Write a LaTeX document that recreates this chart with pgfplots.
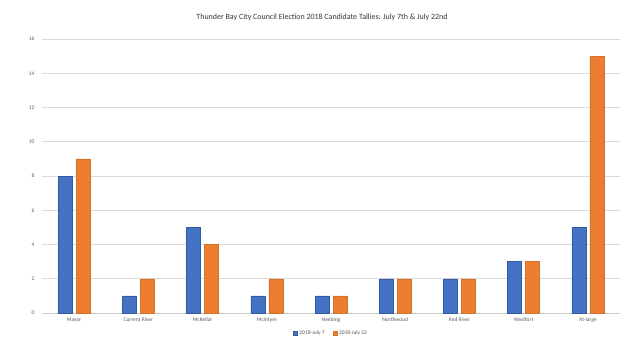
\documentclass[border=0pt]{standalone}
\usepackage{pgfplots}
\pgfplotsset{compat=1.18}
\usepackage{fontspec}
\setmainfont{Carlito}
\definecolor{cblue}{HTML}{4472C4}
\definecolor{corange}{HTML}{ED7D31}
\definecolor{cgrid}{HTML}{D9D9D9}
\definecolor{ctext}{HTML}{595959}
\begin{document}
\begin{tikzpicture}[x=1bp,y=1bp]
\path (0,0) rectangle (640,360);
\node[text=ctext!60!black, font=\fontsize{8}{9}\selectfont] at (322,343) {Thunder Bay City Council Election 2018 Candidate Tallies: July 7th \& July 22nd};
\begin{axis}[
  at={(42bp,47bp)}, anchor=south west,
  scale only axis, width=578bp, height=274bp,
  xmin=-0.5, xmax=8.5, ymin=0, ymax=16,
  ytick={0,2,...,16},
  xtick={0,...,8},
  xticklabels={Mayor,Current River,McKellar,McIntyre,Neebing,Northwood,Red River,Westfort,At-large},
  ybar, bar width=14bp,
  axis lines*=left,
  separate axis lines,
  y axis line style={draw=none},
  x axis line style={draw=cgrid!85!gray},
  ymajorgrids, grid style={cgrid, line width=0.6pt},
  major tick length=0pt,
  tick label style={text=ctext, font=\fontsize{5.5}{6}\selectfont},
  xticklabel style={yshift=-1bp},
  yticklabel style={xshift=-4bp},
  /pgf/number format/assume math mode=true,
  legend style={at={(0.5,-0.073)}, anchor=center, draw=none, legend columns=2, font=\fontsize{5.5}{6}\selectfont, text=ctext, /tikz/every even column/.append style={column sep=6bp}},
  legend image code/.code={\fill[#1] (0bp,-2bp) rectangle (4bp,2bp);},
  clip=false,
]
\addplot[fill=cblue, draw=cblue!80!black, bar shift=-9bp] coordinates {(0,8) (1,1) (2,5) (3,1) (4,1) (5,2) (6,2) (7,3) (8,5)};
\addplot[fill=corange, draw=corange!90!black, bar shift=9bp] coordinates {(0,9) (1,2) (2,4) (3,2) (4,1) (5,2) (6,2) (7,3) (8,15)};
\legend{2018-July 7, 2018-July 22}
\end{axis}
\end{tikzpicture}
\end{document}
